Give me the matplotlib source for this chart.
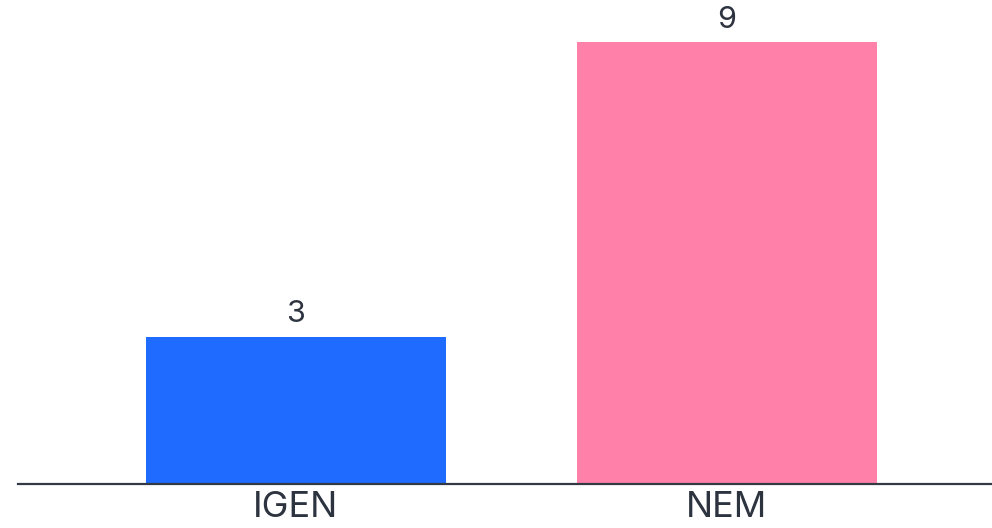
import matplotlib
matplotlib.use("Agg")
import matplotlib.pyplot as plt

categories = ["IGEN", "NEM"]
values = [3, 9]
colors = ["#1f6bff", "#ff80a8"]

plt.rcParams['font.family'] = ['Inter', 'DejaVu Sans']

fig = plt.figure(figsize=(9.92, 5.28), dpi=100)
ax = fig.add_axes([18 / 992, 44 / 528, 974 / 992, 442 / 528])

x = list(range(len(categories)))
bars = ax.bar(x, values, width=0.696, color=colors)

for b, v in zip(bars, values):
    ax.annotate(str(v), (b.get_x() + b.get_width() / 2, v), xytext=(0, 6),
                textcoords="offset points", ha="center", va="bottom",
                fontsize=22, color="#2d3440")

ax.set_xlim(-0.645, 1.615)
ax.set_ylim(0, 9)
ax.set_xticks(x)
ax.set_xticklabels(categories, fontsize=26, color="#2d3440")
ax.tick_params(axis="x", length=0, pad=5)
ax.set_yticks([])
for s in ["top", "right", "left"]:
    ax.spines[s].set_visible(False)
ax.spines["bottom"].set_color("#333a44")
ax.spines["bottom"].set_linewidth(1.6)

fig.savefig("out.png", dpi=100)
